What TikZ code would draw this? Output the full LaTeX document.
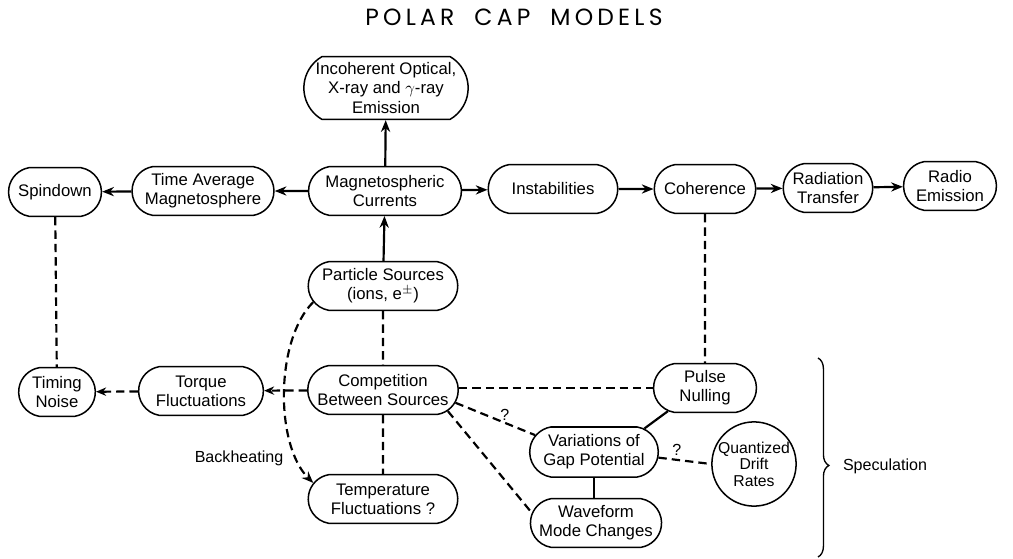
\documentclass[tikz,border=0pt]{standalone}
\usepackage{fontspec}
\setmainfont{Liberation Sans}
\newfontfamily\titlefont{Poppins}
\usetikzlibrary{arrows.meta,decorations.pathreplacing,shapes.misc}

\begin{document}
\begin{tikzpicture}[x=0.021cm,y=-0.021cm,
  box/.style={draw, line width=0.9pt, rounded rectangle, rounded rectangle arc length=160,
    minimum height=1.02cm, align=center, inner sep=1pt, font=\fontsize{10}{11.4}\selectfont},
  link/.style={line width=1.3pt},
  flow/.style={link, -{Stealth[length=7pt,width=5.5pt]}},
  weak/.style={link, dash pattern=on 5pt off 3pt},
  weakflow/.style={weak, -{Stealth[open,length=6pt,width=5pt]}},
  note/.style={font=\fontsize{9.6}{11.4}\selectfont, inner sep=1pt}]

  \useasboundingbox (0,0) rectangle (1013,559);

  % Title
  \node[font=\fontsize{14}{16}\titlefont\addfontfeature{LetterSpace=18}] (title) at (514,17)
    {POLAR\hspace{0.42cm}CAP\hspace{0.42cm}MODELS};

  % Upper row
  \node[box, minimum width=2.02cm] (spin)  at (55,192)  {Spindown};
  \node[box, minimum width=3.05cm] (tavg)  at (203,191) {Time Average\\Magnetosphere};
  \node[box, minimum width=3.28cm] (mag)   at (385,191) {Magnetospheric\\Currents};
  \node[box, minimum width=2.79cm] (inst)  at (553,189) {Instabilities};
  \node[box, minimum width=2.2cm]  (coh)   at (705,189) {Coherence};
  \node[box, minimum width=1.95cm] (rad)   at (828,188) {Radiation\\Transfer};
  \node[box, minimum width=2.02cm] (radio) at (950,186) {Radio\\Emission};
  \node[box, minimum width=3.4cm, minimum height=1.32cm, rounded rectangle arc length=120]
    (incoh) at (386,88) {Incoherent Optical,\\X-ray and $\gamma$-ray\\Emission};

  % Lower part
  \node[box, minimum width=3.21cm] (psrc)   at (383,286) {Particle Sources\\(ions, e$^{\pm}$)};
  \node[box, minimum width=1.68cm] (timing) at (57,392)  {Timing\\Noise};
  \node[box, minimum width=2.69cm] (torque) at (201,391) {Torque\\Fluctuations};
  \node[box, minimum width=3.23cm] (comp)   at (383,390) {Competition\\Between Sources};
  \node[box, minimum width=3.21cm] (temp)   at (383,499) {Temperature\\Fluctuations ?};
  \node[box, minimum width=2.23cm] (pulse)  at (705,388) {Pulse\\Nulling};
  \node[box, minimum width=2.77cm, minimum height=1.05cm] (gap) at (594,452)
    {Variations of\\Gap Potential};
  \node[box, minimum width=2.6cm]  (wave)   at (596,523) {Waveform\\Mode Changes};
  \node[draw, line width=0.9pt, circle, minimum size=1.62cm, inner sep=0pt, align=center,
    font=\fontsize{9.4}{9.8}\selectfont] (quant) at (754,464) {Quantized\\Drift\\Rates};

  % Solid arrows
  \draw[flow] (mag) -- (incoh);
  \draw[flow] (mag) -- (tavg);
  \draw[flow] (tavg) -- (spin);
  \draw[flow] (mag) -- (inst);
  \draw[flow] (inst) -- (coh);
  \draw[flow] (coh) -- (rad);
  \draw[flow] (rad) -- (radio);
  \draw[flow] (psrc) -- (mag);

  % Dashed links
  \draw[weak] (spin) -- (timing);
  \draw[weak] (psrc) -- (comp);
  \draw[weak] (comp) -- (temp);
  \draw[weak] (coh) -- (pulse);
  \draw[weak] (comp.east |- pulse.west) -- (pulse.west);
  \draw[weakflow] (comp) -- (torque);
  \draw[weakflow] (torque) -- (timing);
  \draw[weak] (comp.-10) -- node[note, pos=0.62, above] {?} (gap.164);
  \draw[weak] (comp.-18) -- (wave.171);
  \draw[weak] (gap.-5) -- node[note, pos=0.35, above=1pt] {?} (quant.west);

  % Solid links
  \draw[link] (pulse.212) -- (gap.25);
  \draw[link] (gap.south) -- (gap.south |- wave.north);

  % Backheating
  \draw[weak, -{Stealth[length=7pt,width=5.5pt]}] (psrc.193)
    .. controls (275,340) and (275,445) .. (temp.167);
  \node[note] (bh) at (239,458) {Backheating};

  % Speculation brace
  \draw[line width=0.8pt, decorate, decoration={brace, amplitude=6.5pt, aspect=0.54}]
    (818,358) -- (818,557);
  \node[note] (spec) at (885,466) {Speculation};

\end{tikzpicture}
\end{document}
